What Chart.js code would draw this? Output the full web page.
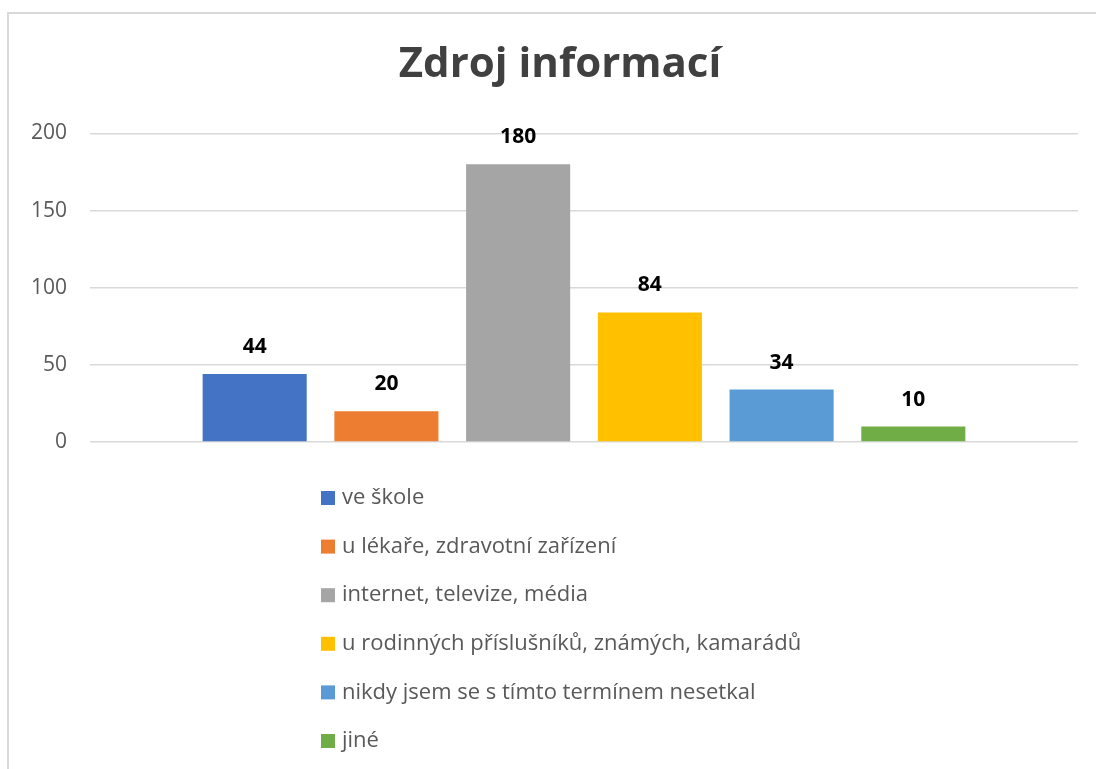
<!DOCTYPE html>
<html>
<head>
<meta charset="utf-8">
<title>Zdroj informací</title>
<script src="https://cdn.jsdelivr.net/npm/chart.js@4/dist/chart.umd.min.js"></script>
<style>
    html, body { margin: 0; padding: 0; background: #fff; overflow: hidden; width: 1096px; height: 769px; }
    #frame { position: absolute; left: 7px; top: 12px; width: 1110px; height: 780px; border: 2px solid #d9d9d9; }
    #wrap { position: absolute; left: 0; top: 0; width: 1102px; height: 760px; }
</style>
</head>
<body>
<div id="frame">
    <div id="wrap"><canvas id="chart"></canvas></div>
</div>
<script>
const chartTitle = 'Zdroj informací';
const sources = ['ve škole', 'u lékaře, zdravotní zařízení', 'internet, televize, média', 'u rodinných příslušníků, známých, kamarádů', 'nikdy jsem se s tímto termínem nesetkal', 'jiné'];
const counts = [44, 20, 180, 84, 34, 10];
const colors = ['#4472C4', '#ED7D31', '#A5A5A5', '#FFC000', '#5B9BD5', '#70AD47'];
const yTicks = [0, 50, 100, 150, 200];

const FONT = "'Open Sans', Lato, sans-serif";
const GREY_TEXT = '#595959';

// value labels above each bar
const valueLabels = {
    id: 'valueLabels',
    afterDatasetsDraw(chart) {
        const ctx = chart.ctx;
        ctx.save();
        ctx.font = 'bold 21px ' + FONT;
        ctx.fillStyle = '#000';
        ctx.textAlign = 'center';
        ctx.textBaseline = 'middle';
        chart.data.datasets.forEach((ds, i) => {
            const bar = chart.getDatasetMeta(i).data[0];
            if (!bar) return;
            ctx.fillText(ds.data[0], bar.x, bar.y - 27);
        });
        ctx.restore();
    }
};

// one item per line legend under the plot, like the Excel original
const stackedLegend = {
    id: 'stackedLegend',
    afterDraw(chart) {
        const ctx = chart.ctx;
        const items = chart.legend.legendItems || [];
        ctx.save();
        ctx.font = '22px ' + FONT;
        ctx.textBaseline = 'middle';
        ctx.textAlign = 'left';
        items.forEach((it, i) => {
            const y = 484 + i * 48.6;
            ctx.fillStyle = it.fillStyle;
            ctx.fillRect(312, y - 7, 14, 14);
            ctx.fillStyle = GREY_TEXT;
            ctx.fillText(it.text, 333, y);
        });
        ctx.restore();
    }
};

const datasets = sources.map((name, i) => ({
    label: name,
    data: [counts[i]],
    backgroundColor: colors[i],
    borderWidth: 0,
    categoryPercentage: 0.8,
    barPercentage: 0.79
}));

new Chart(document.getElementById('chart').getContext('2d'), {
    type: 'bar',
    data: { labels: [''], datasets: datasets },
    plugins: [valueLabels, stackedLegend],
    options: {
        responsive: true,
        maintainAspectRatio: false,
        animation: false,
        layout: { padding: { left: 0, right: 0, top: 0, bottom: 332 } },
        plugins: {
            legend: { display: false },
            tooltip: { enabled: false },
            title: {
                display: true,
                text: chartTitle,
                color: '#404040',
                font: { family: FONT, size: 42, weight: 'bold', lineHeight: 1.2 },
                padding: { top: 26, bottom: 43 }
            }
        },
        scales: {
            x: { display: false },
            y: {
                min: yTicks[0],
                max: yTicks[yTicks.length - 1],
                afterBuildTicks(scale) { scale.ticks = yTicks.map(v => ({ value: v })); },
                afterFit(scale) { scale.width = 81; },
                border: { display: false },
                grid: { color: '#d9d9d9', lineWidth: 1.5, drawTicks: false },
                ticks: { color: GREY_TEXT, padding: 23, font: { family: FONT, size: 21 } }
            },
            // empty right-hand spacer so the plot ends where the original does
            spacer: {
                type: 'linear',
                position: 'right',
                display: true,
                afterFit(scale) { scale.width = 33; },
                border: { display: false },
                grid: { display: false },
                ticks: { display: false }
            }
        }
    }
});
</script>
</body>
</html>
